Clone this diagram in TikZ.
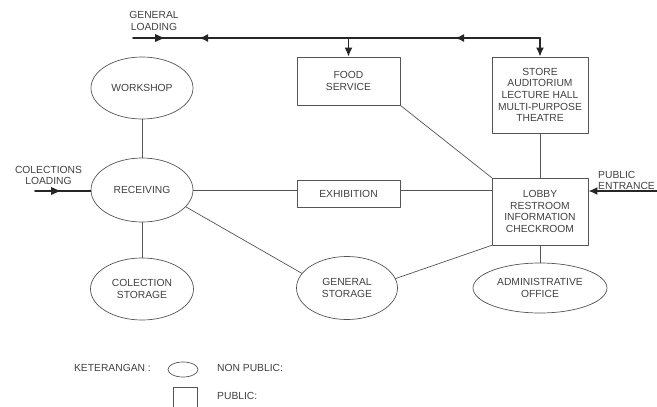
\documentclass[tikz,border=0pt]{standalone}
\usepackage{fontspec}
\setmainfont{Liberation Sans}
\usetikzlibrary{arrows.meta,shapes.geometric}
\definecolor{lngray}{rgb}{0.33,0.33,0.33}
\definecolor{txgray}{rgb}{0.25,0.25,0.25}
\begin{document}
\begin{tikzpicture}[x=1pt,y=1pt,line cap=round,line join=round,
  every node/.style={text=txgray,font=\fontsize{10.3}{11.6}\selectfont,align=center,inner sep=0pt},
  nonpub/.style={draw=lngray,ellipse,line width=0.7pt},
  pub/.style={draw=lngray,rectangle,line width=0.7pt},
  link/.style={draw=lngray,line width=0.7pt},
  bus/.style={draw=black!85,line width=1.6pt},
  head/.style={fill=black!85},
  tip/.style={-{Latex[length=9pt,width=8pt]}}]
\useasboundingbox (0,0) rectangle (657,-407);
% rooms
\node[nonpub,minimum width=102,minimum height=62] (workshop) at (142,-88) {WORKSHOP};
\node[nonpub,minimum width=102,minimum height=64] (receiving) at (142,-190) {RECEIVING};
\node[nonpub,minimum width=103,minimum height=62] (colstore) at (142,-289) {COLECTION\\STORAGE};
\node[nonpub,minimum width=101,minimum height=63] (genstore) at (347,-288) {GENERAL\\STORAGE};
\node[nonpub,minimum width=134,minimum height=50] (admin) at (540,-288) {ADMINISTRATIVE\\OFFICE};
\node[pub,minimum width=103,minimum height=48] (food) at (348.5,-81) {FOOD\\SERVICE};
\node[pub,minimum width=96,minimum height=76] (store) at (540,-95) {STORE\\AUDITORIUM\\LECTURE HALL\\MULTI-PURPOSE\\THEATRE};
\node[pub,minimum width=103,minimum height=27] (exhib) at (348.5,-193.5) {EXHIBITION};
\node[pub,minimum width=96,minimum height=67] (lobby) at (540,-211.5) {LOBBY\\RESTROOM\\INFORMATION\\CHECKROOM};
% loading and entrance
\node (glabel) at (154,-21) {GENERAL\\LOADING};
\node (clabel) at (48.5,-175.5) {COLECTIONS\\LOADING};
\node[anchor=west,align=left] (plabel) at (598,-180.5) {PUBLIC\\ENTRANCE};
\coordinate (gl) at (133,-38);
\coordinate (gtipa) at (164,-38);
\coordinate (gtipb) at (199,-38);
\coordinate (gtipc) at (455,-38);
\coordinate (cl) at (35,-191);
\coordinate (ctip) at (60,-191);
\coordinate (pe) at (660,-191);
% connectors
\draw[link] (workshop.south) -- (receiving.north);
\draw[link] (receiving.south) -- (colstore.north);
\draw[link] (receiving.east) -- (exhib.west |- receiving.east);
\draw[link] (exhib.east |- receiving.east) -- (lobby.west |- receiving.east);
\draw[link] (receiving.-21) -- (genstore.162);
\draw[link] (genstore.11) -- (lobby.south west);
\draw[link] (food.south east) -- (lobby.north west);
\draw[link] (store.south) -- (lobby.north);
\draw[link] (lobby.south) -- (admin.north);
% loading lines
\draw[bus,tip] (gl) -- (store.north |- gl) -- (store.north);
\fill[head] (gtipa) -- ++(-9,4) -- ++(0,-8) -- cycle;
\draw[bus,tip] (gtipb -| food.north) -- (gtipb);
\draw[bus,tip] (store.north |- gl) -- (gtipc);
\draw[bus,tip] (food.north |- gl) -- (food.north);
\draw[bus,line width=1.8pt] (cl) -- (receiving.west |- cl);
\fill[head] (ctip) -- ++(-9,4) -- ++(0,-8) -- cycle;
\draw[bus,line width=1.8pt,tip] (pe) -- (lobby.east |- pe);
% legend
\node[anchor=east] (ket) at (151,-368) {KETERANGAN :};
\node[nonpub,minimum width=30,minimum height=15] (keynp) at (183,-369.5) {};
\node[anchor=west] (npub) at (217,-368) {NON PUBLIC:};
\node[pub,minimum width=24,minimum height=20] (keyp) at (185,-397) {};
\node[anchor=west] (pubtx) at (217,-396) {PUBLIC:};
\end{tikzpicture}
\end{document}
